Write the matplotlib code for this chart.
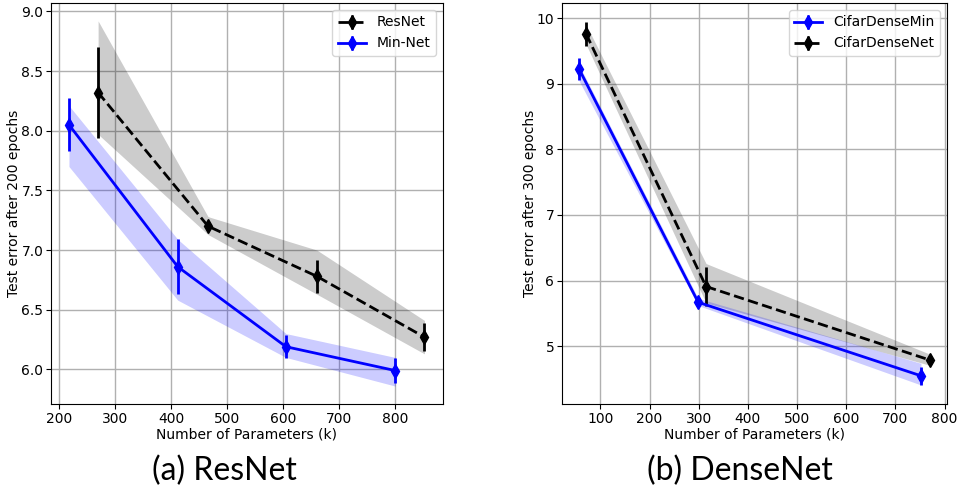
import matplotlib
matplotlib.use("Agg")
import matplotlib.pyplot as plt
import numpy as np

# (a) ResNet panel
res_x = [270, 466, 660, 852]
res_y = [8.32, 7.20, 6.78, 6.27]
res_err = [0.38, 0.04, 0.14, 0.12]
res_lo = [7.97, 7.13, 6.63, 6.13]
res_hi = [8.92, 7.28, 7.00, 6.41]

min_x = [218, 412, 605, 800]
min_y = [8.05, 6.86, 6.19, 5.99]
min_err = [0.22, 0.23, 0.095, 0.105]
min_lo = [7.70, 6.58, 6.10, 5.86]
min_hi = [8.21, 7.09, 6.30, 6.10]

# (b) DenseNet panel
dmin_x = [57, 299, 752]
dmin_y = [9.22, 5.67, 4.55]
dmin_err = [0.17, 0.05, 0.14]
dmin_lo = [9.04, 5.62, 4.41]
dmin_hi = [9.28, 5.73, 4.74]

dnet_x = [71, 315, 770]
dnet_y = [9.76, 5.91, 4.79]
dnet_err = [0.18, 0.29, 0.04]
dnet_lo = [9.60, 5.66, 4.71]
dnet_hi = [9.90, 6.26, 4.88]

fig = plt.figure(figsize=(9.59, 5.0), dpi=100)
ax1 = fig.add_axes([51 / 959, 96 / 500, 392 / 959, 401 / 500])
ax2 = fig.add_axes([562 / 959, 96 / 500, 385 / 959, 401 / 500])

kw = dict(markersize=7, lw=2, elinewidth=2, capsize=0)

# left
ax1.fill_between(res_x, res_lo, res_hi, color='black', alpha=0.2, lw=0)
ax1.fill_between(min_x, min_lo, min_hi, color='blue', alpha=0.2, lw=0)
ax1.errorbar(res_x, res_y, yerr=res_err, fmt='--d', color='black', label='ResNet', **kw)
ax1.errorbar(min_x, min_y, yerr=min_err, fmt='-d', color='blue', label='Min-Net', **kw)
ax1.set_xlim(186, 885)
ax1.set_ylim(5.71, 9.07)
ax1.set_xticks([200, 300, 400, 500, 600, 700, 800])
ax1.set_yticks([6.0, 6.5, 7.0, 7.5, 8.0, 8.5, 9.0])
ax1.set_xlabel('Number of Parameters (k)', labelpad=1)
ax1.set_ylabel('Test error after 200 epochs', labelpad=0)
ax1.grid(True, color='#b0b0b0', lw=1)
ax1.legend(loc='upper right')

# right
ax2.fill_between(dnet_x, dnet_lo, dnet_hi, color='black', alpha=0.2, lw=0)
ax2.fill_between(dmin_x, dmin_lo, dmin_hi, color='blue', alpha=0.2, lw=0)
ax2.errorbar(dmin_x, dmin_y, yerr=dmin_err, fmt='-d', color='blue', label='CifarDenseMin', **kw)
ax2.errorbar(dnet_x, dnet_y, yerr=dnet_err, fmt='--d', color='black', label='CifarDenseNet', **kw)
ax2.set_xlim(22, 805)
ax2.set_ylim(4.12, 10.23)
ax2.set_xticks([100, 200, 300, 400, 500, 600, 700, 800])
ax2.set_yticks([5, 6, 7, 8, 9, 10])
ax2.set_xlabel('Number of Parameters (k)', labelpad=1)
ax2.set_ylabel('Test error after 300 epochs', labelpad=0)
ax2.grid(True, color='#b0b0b0', lw=1)
ax2.legend(loc='upper right')

for ax in (ax1, ax2):
    ax.tick_params(labelsize=10, pad=2)
    ax.set_axisbelow(True)

fig.text(224 / 959, 1 - 471 / 500, '(a) ResNet', ha='center', va='center',
         family='Lato', fontsize=23)
fig.text(740 / 959, 1 - 471 / 500, '(b) DenseNet', ha='center', va='center',
         family='Lato', fontsize=23)

fig.savefig('out.png', dpi=100)
